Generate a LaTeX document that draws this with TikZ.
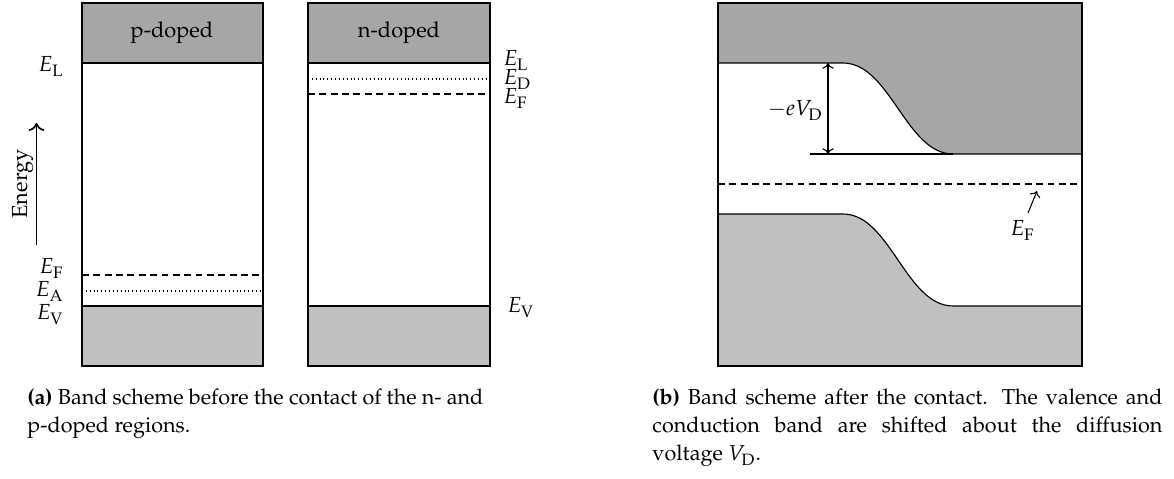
\documentclass[tikz,border=0pt]{standalone}
\usepackage[T1]{fontenc}
\usepackage{mathpazo}
\usetikzlibrary{arrows.meta}
\definecolor{bandhigh}{RGB}{166,166,166}
\definecolor{bandlow}{RGB}{192,192,192}
\tikzset{
  frame/.style={draw=black,line width=0.5pt},
  edge/.style={draw=black,line width=0.5pt},
  fermi/.style={draw=black,line width=0.45pt,dash pattern=on 3pt off 2pt},
  dopant/.style={draw=black,line width=0.45pt,dash pattern=on 0.4pt off 1.3pt},
  lbl/.style={inner sep=0pt,font=\fontsize{9.6}{12}\selectfont},
  caption/.style={inner sep=0pt,anchor=base west,font=\fontsize{9.5}{12}\selectfont},
}
\begin{document}
\begin{tikzpicture}[x=0.44pt,y=-0.44pt]
\useasboundingbox (0,0) rectangle (1174,479);

% ---- p-doped column
\fill[bandhigh] (82,3) rectangle (263,63);
\fill[bandlow] (82,306) rectangle (263,366);
\draw[edge] (82,63) -- (263,63);
\draw[edge] (82,306) -- (263,306);
\draw[fermi] (82,275) -- (263,275);
\draw[dopant] (82,291) -- (263,291);
\draw[frame] (82,3) rectangle (263,366);
\node[lbl,anchor=base] (pname) at (172,38) {p-doped};
\node[lbl,anchor=base east] (pEL) at (64,72) {$E_\mathrm{L}$};
\node[lbl,anchor=base east] (pEF) at (64,274) {$E_\mathrm{F}$};
\node[lbl,anchor=base east] (pEA) at (64,297) {$E_\mathrm{A}$};
\node[lbl,anchor=base east] (pEV) at (64,320) {$E_\mathrm{V}$};

% energy axis
\coordinate (ebot) at (36.5,245);
\coordinate (etop) at (36.5,123);
\draw[line width=0.75pt,-{To[length=3.5pt,width=7pt]}] (ebot) -- (etop);
\node[lbl,rotate=90,anchor=base] (energy) at (27,184) {Energy};

% ---- n-doped column
\fill[bandhigh] (308,3) rectangle (490,63);
\fill[bandlow] (308,306) rectangle (490,366);
\draw[edge] (308,63) -- (490,63);
\draw[edge] (308,306) -- (490,306);
\draw[dopant] (308,79) -- (490,79);
\draw[fermi] (308,94) -- (490,94);
\draw[frame] (308,3) rectangle (490,366);
\node[lbl,anchor=base] (nname) at (399,38) {n-doped};
\node[lbl,anchor=base west] (nEL) at (503,66) {$E_\mathrm{L}$};
\node[lbl,anchor=base west] (nED) at (503,85) {$E_\mathrm{D}$};
\node[lbl,anchor=base west] (nEF) at (503,104) {$E_\mathrm{F}$};
\node[lbl,anchor=base west] (nEV) at (507,313) {$E_\mathrm{V}$};

% ---- junction after contact
\fill[bandhigh] (718,3) -- (1082,3) -- (1082,154) -- (953,154)
  .. controls (906,154) and (890,63) .. (843,63) -- (718,63) -- cycle;
\fill[bandlow] (718,214) -- (843,214)
  .. controls (890,214) and (906,306) .. (953,306) -- (1082,306)
  -- (1082,366) -- (718,366) -- cycle;
\draw[edge] (718,63) -- (843,63)
  .. controls (890,63) and (906,154) .. (953,154) -- (1082,154);
\draw[edge] (810,154) -- (953,154);
\draw[edge] (718,214) -- (843,214)
  .. controls (890,214) and (906,306) .. (953,306) -- (1082,306);
\draw[fermi] (718,184) -- (1082,184);
\draw[frame] (718,3) rectangle (1082,366);

\coordinate (vtop) at (828,63);
\coordinate (vbot) at (828,154);
\draw[line width=0.5pt,{To[length=2.5pt,width=5pt]}-{To[length=2.5pt,width=5pt]}] (vtop) -- (vbot);
\node[lbl,anchor=base east] (eVD) at (823,116) {$-eV_\mathrm{D}$};

\node[lbl,anchor=base west] (jEF) at (1010,236) {$E_\mathrm{F}$};
\coordinate (jEFtip) at (1037,191);
\draw[line width=0.45pt,-{To[length=2.5pt,width=5pt]}] (1028,213) -- (jEFtip);

% ---- captions
\node[caption] (capa1) at (27,405)
  {\makebox[200.6pt][s]{\textbf{(a)} Band scheme before the contact of the n- and}};
\node[caption] (capa2) at (27,433) {p-doped regions.};
\node[caption] (capb1) at (652,405)
  {\makebox[224.4pt][s]{\textbf{(b)} Band scheme after the contact. The valence and}};
\node[caption] (capb2) at (652,433)
  {\makebox[224.4pt][s]{conduction band are shifted about the diffusion}};
\node[caption] (capb3) at (652,461) {voltage $V_\mathrm{D}$.};
\end{tikzpicture}
\end{document}
